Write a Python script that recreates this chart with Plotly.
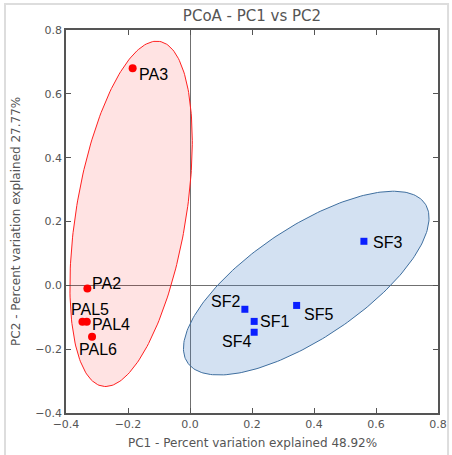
import numpy as np
import plotly.graph_objects as go

# Sample coordinates (PC1, PC2)
pa_names = ["PA3", "PA2", "PAL5", "PAL4", "PAL6"]
pa_pc1 = [-0.185, -0.331, -0.347, -0.333, -0.316]
pa_pc2 = [0.680, -0.010, -0.114, -0.114, -0.161]

sf_names = ["SF3", "SF2", "SF5", "SF1", "SF4"]
sf_pc1 = [0.561, 0.177, 0.344, 0.207, 0.207]
sf_pc2 = [0.138, -0.075, -0.063, -0.113, -0.147]

# Confidence ellipses: centre x, centre y, semi-major, semi-minor, angle (deg)
red_ellipse = [-0.190, 0.224, 0.548, 0.177, 80.3]
blue_ellipse = [0.375, 0.007, 0.457, 0.176, 32.7]

x_ticks = [-0.4, -0.2, 0.0, 0.2, 0.4, 0.6, 0.8]
y_ticks = [-0.4, -0.2, 0.0, 0.2, 0.4, 0.6, 0.8]

# label pixel offsets (style, not data)
pa_label_shift = [(21, -6), (19, 5), (8, 12), (24, -3), (6, -13)]
sf_label_shift = [(24, -1), (-19, 8), (22, -9), (20, 0), (-18, -9)]


def ellipse_xy(params, n=240):
    cx, cy, a, b, ang = params
    t = np.linspace(0, 2 * np.pi, n)
    th = np.deg2rad(ang)
    x = cx + a * np.cos(t) * np.cos(th) - b * np.sin(t) * np.sin(th)
    y = cy + a * np.cos(t) * np.sin(th) + b * np.sin(t) * np.cos(th)
    return x, y


fig = go.Figure()

ex, ey = ellipse_xy(red_ellipse)
fig.add_trace(go.Scatter(x=ex, y=ey, mode="lines", fill="toself",
                         fillcolor="rgba(255,0,0,0.11)",
                         line=dict(color="#ff2020", width=1), hoverinfo="skip"))
ex, ey = ellipse_xy(blue_ellipse)
fig.add_trace(go.Scatter(x=ex, y=ey, mode="lines", fill="toself",
                         fillcolor="rgba(70,130,200,0.24)",
                         line=dict(color="#3f6f9f", width=1), hoverinfo="skip"))

fig.add_trace(go.Scatter(x=pa_pc1, y=pa_pc2, mode="markers", cliponaxis=False,
                         marker=dict(symbol="circle", size=8, color="#ff0000")))
fig.add_trace(go.Scatter(x=sf_pc1, y=sf_pc2, mode="markers", cliponaxis=False,
                         marker=dict(symbol="square", size=7, color="#0a1fff")))

label_font = dict(family="Liberation Sans, Arial", size=16, color="black")
annotations = []
for names, xs, ys, shifts in [(pa_names, pa_pc1, pa_pc2, pa_label_shift),
                              (sf_names, sf_pc1, sf_pc2, sf_label_shift)]:
    for n, x, y, (dx, dy) in zip(names, xs, ys, shifts):
        annotations.append(dict(x=x, y=y, xref="x", yref="y", text=n, showarrow=False,
                                xshift=dx, yshift=dy, xanchor="center", yanchor="middle",
                                font=label_font))

axis_font = dict(family="DejaVu Sans", size=12, color="#555555")
annotations.append(dict(text="PC1 - Percent variation explained 48.92%", xref="paper", yref="paper",
                        x=0.5, y=-0.078, xanchor="center", yanchor="middle", showarrow=False,
                        font=axis_font))
annotations.append(dict(text="PC2 - Percent variation explained 27.77%", xref="paper", yref="paper",
                        x=-0.136, y=0.5, xanchor="center", yanchor="middle", showarrow=False,
                        textangle=-90, font=axis_font))

axis_common = dict(
    showgrid=False, zeroline=True, zerolinecolor="#707070", zerolinewidth=1.3,
    showline=True, linecolor="#555555", linewidth=1.5, mirror="ticks",
    ticks="inside", ticklen=5, tickcolor="#555555", automargin=False,
    tickfont=dict(family="DejaVu Sans", size=11, color="#555555"),
)

fig.update_layout(
    width=452, height=455,
    margin=dict(l=66, r=14, t=30, b=42, autoexpand=False),
    paper_bgcolor="white", plot_bgcolor="white",
    showlegend=False,
    title=dict(text="PCoA - PC1 vs PC2", x=0.5, xanchor="center", y=0.966, yanchor="middle",
               xref="paper", font=dict(family="DejaVu Sans", size=15, color="#555555")),
    xaxis=dict(range=[-0.4, 0.8], tickvals=x_ticks, tickformat=".1f", **axis_common),
    yaxis=dict(range=[-0.4, 0.8], tickvals=y_ticks, tickformat=".1f", **axis_common),
    annotations=annotations,
    shapes=[dict(type="rect", xref="paper", yref="paper",
                 x0=-0.164, x1=1.027, y0=-0.115, y1=1.068,
                 line=dict(color="#dddddd", width=2), layer="below")],
)

fig.write_html("out.html")
